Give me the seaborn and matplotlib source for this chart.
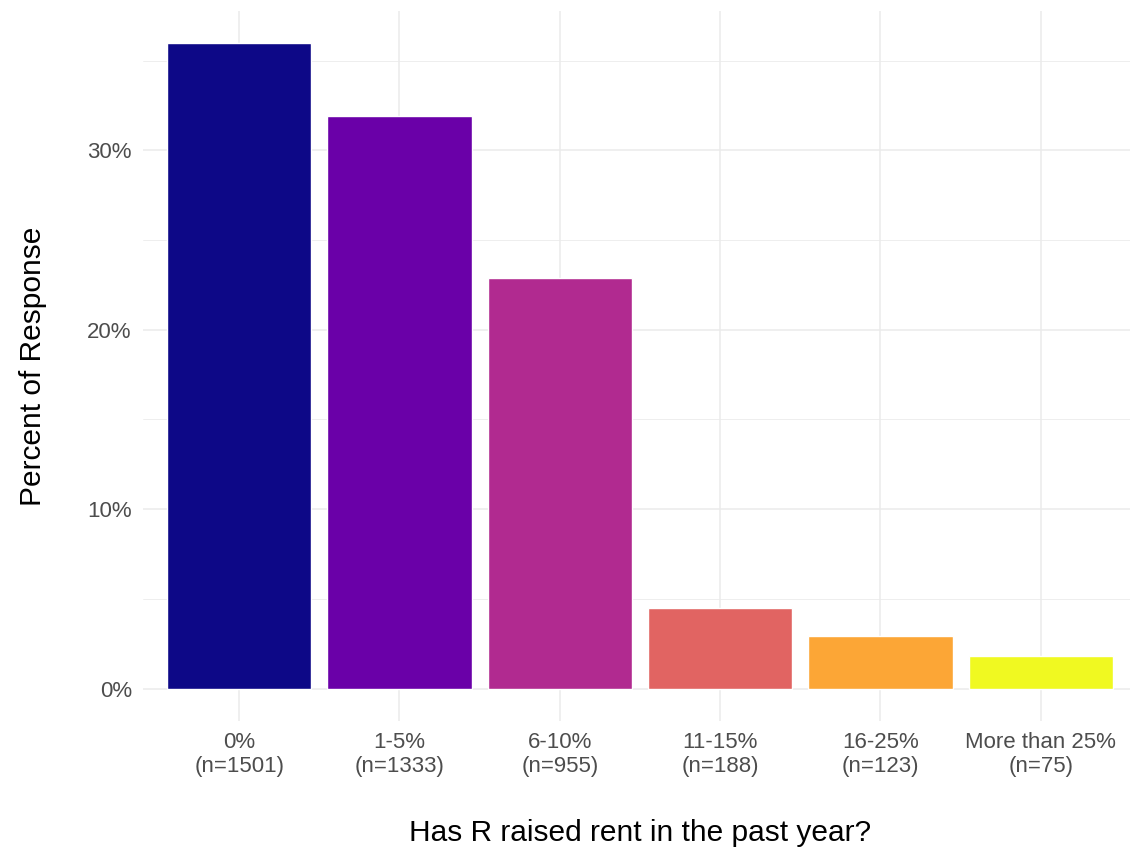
import seaborn as sns
import pandas as pd
import matplotlib.pyplot as plt
from matplotlib.ticker import FixedLocator, FuncFormatter

categories = ['0%', '1-5%', '6-10%', '11-15%', '16-25%', 'More than 25%']
counts = [1501, 1333, 955, 188, 123, 75]
colors = ['#0D0887', '#6A00A8', '#B12A90', '#E16462', '#FCA636', '#F0F921']

total = sum(counts)
df = pd.DataFrame({'raise': categories, 'n': counts})
df['pct'] = df['n'] / total * 100
df['label'] = [f'{c}\n(n={n})' for c, n in zip(categories, counts)]

sns.set_style('white')
plt.rcParams['font.family'] = ['Liberation Sans', 'DejaVu Sans']

fig = plt.figure(figsize=(11.3, 8.47), dpi=100)
ax = fig.add_axes([0.1265, 0.1488, 0.8796, 0.838])

sns.barplot(data=df, x='label', y='pct', hue='label', palette=colors,
            legend=False, width=0.9, saturation=1, ax=ax, zorder=3)

top = df['pct'].max()
ax.set_xlim(-0.6, len(categories) - 0.4)
ax.set_ylim(-0.05 * top, top * 1.05)

ax.yaxis.set_major_locator(FixedLocator([0, 10, 20, 30]))
ax.yaxis.set_minor_locator(FixedLocator([5, 15, 25, 35]))
ax.yaxis.set_major_formatter(FuncFormatter(lambda v, p: f'{v:.0f}%'))
ax.grid(True, which='major', color='#EBEBEB', lw=1.1, zorder=0)
ax.grid(True, which='minor', axis='y', color='#EBEBEB', lw=0.6, zorder=0)
ax.set_axisbelow(True)

for s in ax.spines.values():
    s.set_visible(False)
ax.tick_params(axis='both', which='both', length=0, labelsize=16,
               labelcolor='#4D4D4D', pad=8)

ax.set_xlabel('Has R raised rent in the past year?', fontsize=21.5,
              color='black', labelpad=30)
ax.set_ylabel('Percent of Response', fontsize=21.5, color='black',
              labelpad=29)

fig.savefig('out.png', dpi=100)
